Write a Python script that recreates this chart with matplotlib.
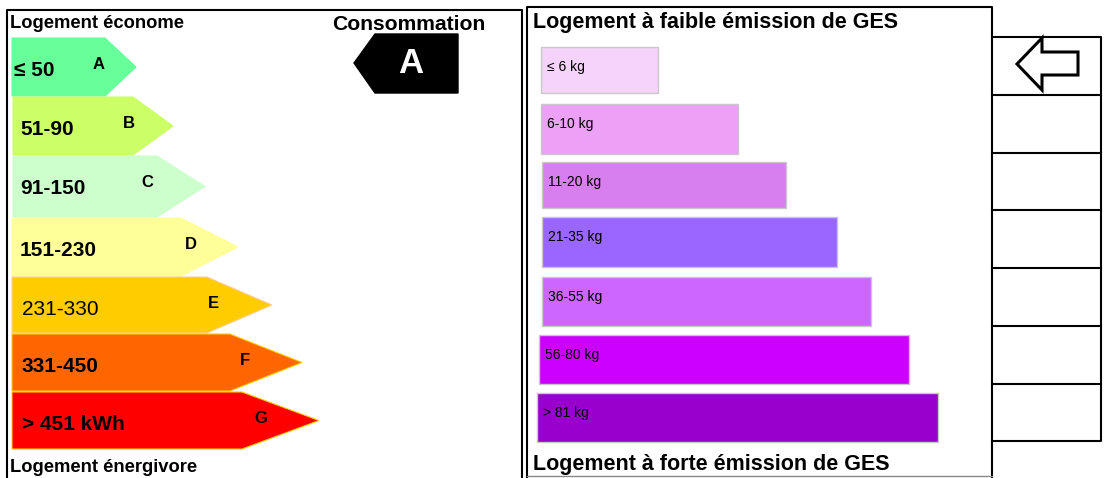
import matplotlib
matplotlib.use('Agg')
import matplotlib.pyplot as plt
from matplotlib.patches import Polygon, Rectangle

plt.rcParams['font.family'] = ['Liberation Sans', 'DejaVu Sans']

# ======== Data ========
energy_classes = ['A', 'B', 'C', 'D', 'E', 'F', 'G']
energy_ranges = ['≤ 50', '51-90', '91-150', '151-230', '231-330', '331-450', '> 451 kWh']
energy_bold = [True, True, True, True, False, True, True]
energy_colors = ['#66ff99', '#ccff66', '#ccffcc', '#ffff99', '#ffcc00', '#ff6600', '#ff0000']
energy_edges = ['#66ff99', '#ccff66', '#ccffcc', '#ffff99', '#ffcc99', '#ffcc00', '#ffcc00']
energy_body = [105, 133, 157, 181, 207, 230, 242]   # end of the flat part
energy_tip = [136, 173, 205, 238, 272, 302, 319]    # point of the arrow
current_class = 'A'

ges_ranges = ['≤ 6 kg', '6-10 kg', '11-20 kg', '21-35 kg', '36-55 kg', '56-80 kg', '> 81 kg']
ges_colors = ['#f6d3fa', '#eca0f6', '#d77fee', '#9966ff', '#cc66ff', '#cc00ff', '#9900cc']
ges_end = [658, 738, 786, 837, 871, 909, 938]

# ======== Layout (pixels, y down) ========
W, H = 1107, 478
energy_x0 = [12, 13, 13, 12, 12, 12, 12]
energy_top = [38, 97, 156, 218, 277, 334, 392]
energy_bot = [96, 155, 217, 276, 333, 391, 449]
label_x = [14, 20, 20, 20, 22, 22, 22]
letter_x = [93, 123, 141, 185, 208, 240, 254]

ges_x0 = [541, 541, 542, 542, 542, 539, 537]
ges_top = [47, 104, 162, 217, 277, 335, 393]
ges_bot = [93, 154, 208, 267, 326, 384, 442]

box_rows = [37, 95, 153, 210, 268, 326, 384, 441]

fig = plt.figure(figsize=(W / 100, H / 100), dpi=100)
ax = fig.add_axes([0, 0, 1, 1])
ax.set_xlim(0, W)
ax.set_ylim(H, 0)
ax.axis('off')

LW = 1.5

# ======== Frames ========
ax.plot([7, 7, 522, 522], [H, 10, 10, H], color='black', lw=LW)
ax.plot([527, 527, 992, 992], [H, 7, 7, H], color='black', lw=LW)
ax.plot([527, 992], [476, 476], color='#888888', lw=1)

# ======== Energy arrows ========
for i, cls in enumerate(energy_classes):
    t, b = energy_top[i], energy_bot[i]
    mid = (t + b) / 2
    pts = [(energy_x0[i], t), (energy_body[i], t), (energy_tip[i], mid),
           (energy_body[i], b), (energy_x0[i], b)]
    ax.add_patch(Polygon(pts, closed=True, facecolor=energy_colors[i],
                         edgecolor=energy_edges[i], lw=0.8))
    ax.text(label_x[i], t + 38, energy_ranges[i], fontsize=15,
            fontweight='bold' if energy_bold[i] else 'normal', va='baseline', ha='left')
    ax.text(letter_x[i], t + 31, cls, fontsize=12, fontweight='bold',
            va='baseline', ha='left')

ax.text(10, 28, 'Logement économe', fontsize=13.2, fontweight='bold', va='baseline')
ax.text(10, 472, 'Logement énergivore', fontsize=13.2, fontweight='bold', va='baseline')

# ======== Current consumption tag ========
ax.text(409, 30, 'Consommation', fontsize=15.2, fontweight='bold', ha='center', va='baseline')
ax.add_patch(Polygon([(354, 63), (375, 34), (458, 34), (458, 93), (375, 93)],
                     closed=True, facecolor='black', edgecolor='black'))
ax.text(411, 63, current_class, fontsize=25, fontweight='bold', color='white',
        ha='center', va='center')

# ======== GES bars ========
for i, lab in enumerate(ges_ranges):
    ax.add_patch(Rectangle((ges_x0[i], ges_top[i]), ges_end[i] - ges_x0[i],
                           ges_bot[i] - ges_top[i], facecolor=ges_colors[i],
                           edgecolor='#c8c8c8', lw=1))
    ax.text(ges_x0[i] + 6, ges_top[i] + 24, lab, fontsize=10, va='baseline', ha='left')

ax.text(533, 28, 'Logement à faible émission de GES', fontsize=15.5,
        fontweight='bold', va='baseline')
ax.text(533, 470, 'Logement à forte émission de GES', fontsize=15.5,
        fontweight='bold', va='baseline')

# ======== Right column ========
ax.plot([992, 1101, 1101, 992], [box_rows[0], box_rows[0], box_rows[-1], box_rows[-1]],
        color='black', lw=LW)
for y in box_rows[1:-1]:
    ax.plot([992, 1101], [y, y], color='black', lw=LW)
ax.add_patch(Polygon([(1017, 64), (1042, 38), (1042, 52), (1078, 52),
                      (1078, 75), (1042, 75), (1042, 90)],
                     closed=True, facecolor='white', edgecolor='black', lw=2.2))

fig.savefig('out.png', dpi=100)
